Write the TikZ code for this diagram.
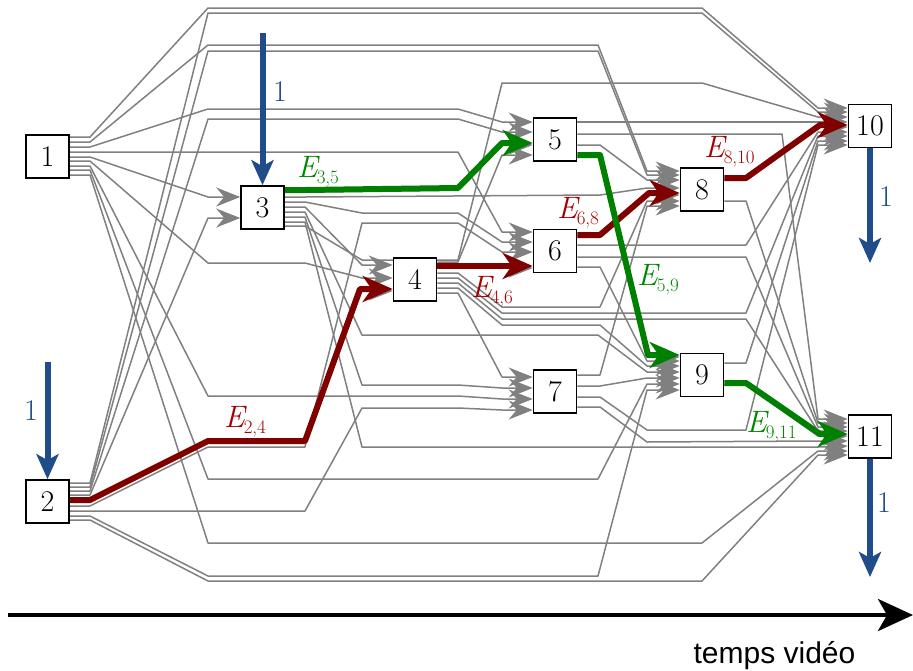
\documentclass[tikz,border=0pt]{standalone}
\usepackage{fontspec}
\newfontfamily\labelsans{Liberation Sans}
\usetikzlibrary{arrows.meta}
\pgfdeclarelayer{edges}
\pgfsetlayers{edges,main}
\definecolor{edgegray}{RGB}{128,128,128}
\definecolor{pathred}{RGB}{128,0,0}
\definecolor{pathgreen}{RGB}{0,128,0}
\definecolor{lblred}{RGB}{165,0,0}
\definecolor{lblgreen}{RGB}{0,135,0}
\definecolor{flowblue}{RGB}{33,76,138}
\newcommand\elab[1]{{\fontsize{31}{36}\selectfont\itshape E}\kern-1pt\raisebox{-6.5pt}{\fontsize{19}{19}\selectfont #1}}
\tikzset{
  edge/.style={draw=edgegray, line width=1.5pt, line join=round, -{Stealth[length=24pt,width=19pt,inset=8pt]}},
  redpath/.style={draw=pathred, line width=6pt, line join=round, -{Stealth[length=30pt,width=26pt,inset=9pt]}},
  greenpath/.style={draw=pathgreen, line width=6pt, line join=round, -{Stealth[length=30pt,width=26pt,inset=9pt]}},
  flow/.style={draw=flowblue, line width=6pt, -{Stealth[length=25pt,width=22pt,inset=6pt]}},
  box/.style={draw=black, line width=1.6pt, fill=white, minimum size=43pt, inner sep=0pt, font=\fontsize{30}{30}\selectfont},
  lbl/.style={inner sep=0pt, font=\fontsize{30}{36}\selectfont},
}
\begin{document}
\begin{tikzpicture}[x=1pt,y=-1pt]
\useasboundingbox (0,0) rectangle (913,670);
\node[box] (n1) at (47.5,156.5) {1};
\node[box] (n2) at (47.5,501.5) {2};
\node[box] (n3) at (262.5,207.5) {3};
\node[box] (n4) at (415,279.5) {4};
\node[box] (n5) at (555,139.5) {5};
\node[box] (n6) at (555,251) {6};
\node[box] (n7) at (555,391.5) {7};
\node[box] (n8) at (702,189.5) {8};
\node[box] (n9) at (702,375) {9};
\node[box] (n10) at (870,126) {10};
\node[box] (n11) at (870,436.5) {11};

\begin{pgfonlayer}{edges}
% from 1
\draw[edge] (n1.east |- 0,137) -- (90,137) -- (208,8) -- (702,8) -- (818,108) -- (n10.west |- 0,108);
\draw[edge] (n1.east |- 0,142) -- (90,142) -- (208,45) -- (598,45) -- (647,171) -- (n8.west |- 0,171);
\draw[edge] (n1.east |- 0,147) -- (90,147) -- (208,109) -- (458,109) -- (502,122) -- (n5.west |- 0,122);
\draw[edge] (n1.east |- 0,152) -- (458,152) -- (502,232) -- (n6.west |- 0,232);
\draw[edge] (n1.east |- 0,157) -- (90,157) -- (208,197) -- (n3.west |- 0,197);
\draw[edge] (n1.east |- 0,161) -- (90,161) -- (208,263) -- (305,263) -- (362,278) -- (n4.west |- 0,278);
\draw[edge] (n1.east |- 0,166) -- (90,166) -- (208,396) -- (458,396) -- (502,399) -- (n7.west |- 0,399);
\draw[edge] (n1.east |- 0,170) -- (90,170) -- (208,479) -- (598,479) -- (647,384) -- (n9.west |- 0,384);
\draw[edge] (n1.east |- 0,175) -- (90,175) -- (208,543) -- (702,543) -- (818,451) -- (n11.west |- 0,451);
% from 2
\draw[edge] (n2.east |- 0,483) -- (90,483) -- (208,13) -- (702,13) -- (818,112) -- (n10.west |- 0,112);
\draw[edge] (n2.east |- 0,487) -- (90,487) -- (208,51) -- (598,51) -- (647,175) -- (n8.west |- 0,175);
\draw[edge] (n2.east |- 0,491) -- (90,491) -- (208,119) -- (458,119) -- (502,132) -- (n5.west |- 0,132);
\draw[edge] (n2.east |- 0,495) -- (90,495) -- (208,218) -- (n3.west |- 0,218);
\draw[edge] (n2.east |- 0,502) -- (90,502) -- (208,443) -- (305,443) -- (362,291) -- (n4.west |- 0,291);
\draw[edge] (n2.east |- 0,506) -- (90,506) -- (208,447) -- (305,447) -- (362,223) -- (458,223) -- (502,252) -- (n6.west |- 0,252);
\draw[edge] (n2.east |- 0,511) -- (305,511) -- (362,408) -- (458,408) -- (502,410) -- (n7.west |- 0,410);
\draw[edge] (n2.east |- 0,516) -- (90,516) -- (208,576) -- (598,576) -- (647,390) -- (n9.west |- 0,390);
\draw[edge] (n2.east |- 0,520) -- (90,520) -- (208,581) -- (702,581) -- (818,455) -- (n11.west |- 0,455);
% from 3
\draw[edge] (n3.east |- 0,192) -- (305,192) -- (458,190) -- (502,145) -- (n5.west |- 0,145);
\draw[edge] (n3.east |- 0,197) -- (305,197) -- (600,195) -- (647,188) -- (n8.west |- 0,188);
\draw[edge] (n3.east |- 0,202) -- (305,202) -- (362,213) -- (458,213) -- (502,242) -- (n6.west |- 0,242);
\draw[edge] (n3.east |- 0,207) -- (305,207) -- (362,265) -- (n4.west |- 0,265);
\draw[edge] (n3.east |- 0,212) -- (305,212) -- (362,335) -- (598,335) -- (647,372) -- (n9.west |- 0,372);
\draw[edge] (n3.east |- 0,217) -- (305,217) -- (362,385) -- (458,385) -- (502,388) -- (n7.west |- 0,388);
\draw[edge] (n3.east |- 0,222) -- (305,222) -- (362,447) -- (818,447) -- (n11.west |- 0,446);
\draw[edge] (n3.east |- 0,226) -- (305,226) -- (362,260) -- (458,260) -- (502,83) -- (702,83) -- (818,117) -- (n10.west |- 0,117);
% from 4
\draw[edge] (n4.east |- 0,262) -- (458,262) -- (502,155) -- (n5.west |- 0,155);
\draw[edge] (n4.east |- 0,268) -- (n6.west |- 0,268);
\draw[edge] (n4.east |- 0,273) -- (458,273) -- (502,307) -- (600,307) -- (647,201) -- (n8.west |- 0,201);
\draw[edge] (n4.east |- 0,278) -- (458,278) -- (502,313) -- (746,313) -- (818,136) -- (n10.west |- 0,136);
\draw[edge] (n4.east |- 0,283) -- (458,283) -- (502,319) -- (746,319) -- (818,431) -- (n11.west |- 0,431);
\draw[edge] (n4.east |- 0,288) -- (458,288) -- (502,325) -- (600,325) -- (647,366) -- (n9.west |- 0,366);
\draw[edge] (n4.east |- 0,293) -- (458,293) -- (502,377) -- (n7.west |- 0,377);
% from 5
\draw[edge] (n5.east |- 0,122) -- (n10.west |- 0,122);
\draw[edge] (n5.east |- 0,134) -- (782,134) -- (818,419) -- (n11.west |- 0,419);
\draw[edge] (n5.east |- 0,145) -- (600,145) -- (647,180) -- (n8.west |- 0,180);
\draw[edge] (n5.east |- 0,157) -- (600,157) -- (647,357) -- (n9.west |- 0,357);
% from 6
\draw[edge] (n6.east |- 0,237) -- (600,237) -- (647,195) -- (n8.west |- 0,195);
\draw[edge] (n6.east |- 0,245) -- (746,245) -- (818,132) -- (n10.west |- 0,132);
\draw[edge] (n6.east |- 0,257) -- (746,257) -- (818,427) -- (n11.west |- 0,427);
\draw[edge] (n6.east |- 0,267) -- (600,267) -- (647,361) -- (n9.west |- 0,361);
% from 7
\draw[edge] (n7.east |- 0,375) -- (600,375) -- (647,206) -- (n8.west |- 0,206);
\draw[edge] (n7.east |- 0,386) -- (600,386) -- (647,378) -- (n9.west |- 0,378);
\draw[edge] (n7.east |- 0,397) -- (600,397) -- (647,430) -- (746,430) -- (818,145) -- (n10.west |- 0,145);
\draw[edge] (n7.east |- 0,407) -- (600,407) -- (647,442) -- (818,441) -- (n11.west |- 0,441);
% from 8
\draw[edge] (n8.east |- 0,180) -- (746,180) -- (818,127) -- (n10.west |- 0,127);
\draw[edge] (n8.east |- 0,201) -- (746,201) -- (818,423) -- (n11.west |- 0,423);
% from 9
\draw[edge] (n9.east |- 0,363) -- (746,363) -- (818,141) -- (n10.west |- 0,141);
\draw[edge] (n9.east |- 0,385) -- (746,385) -- (818,436) -- (n11.west |- 0,436);

% highlighted paths
\draw[redpath] (n2.east |- 0,500) -- (90,500) -- (208,441) -- (305,441) -- (360,289) -- (n4.west |- 0,289);
\draw[redpath] (n4.east |- 0,266) -- (n6.west |- 0,266);
\draw[redpath] (n6.east |- 0,235) -- (600,235) -- (649,193) -- (n8.west |- 0,193);
\draw[redpath] (n8.east |- 0,178) -- (746,178) -- (820,125) -- (n10.west |- 0,125);
\draw[greenpath] (n3.east |- 0,190) -- (305,190) -- (458,188) -- (502,143) -- (n5.west |- 0,143);
\draw[greenpath] (n5.east |- 0,155) -- (600,155) -- (648,355) -- (n9.west |- 0,355);
\draw[greenpath] (n9.east |- 0,383) -- (746,383) -- (820,434) -- (n11.west |- 0,434);
\end{pgfonlayer}

% flow arrows
\coordinate (in3) at (262.5,33);
\coordinate (in2) at (47.5,362);
\coordinate (out10) at (870,263);
\coordinate (out11) at (870,577);
\draw[flow] (in3) -- (n3.north);
\draw[flow] (in2) -- (n2.north);
\draw[flow] (n10.south) -- (out10);
\draw[flow] (n11.south) -- (out11);
\node[lbl, text=flowblue] (f3) at (280,92) {1};
\node[lbl, text=flowblue] (f2) at (31,411) {1};
\node[lbl, text=flowblue] (f10) at (886,197) {1};
\node[lbl, text=flowblue] (f11) at (884,503) {1};

% edge labels (anchored at the baseline of E)
\node[inner sep=0pt, anchor=base west, text=lblgreen] (l35) at (297,177) {\elab{3,5}};
\node[inner sep=0pt, anchor=base west, text=lblred] (l24) at (224,427) {\elab{2,4}};
\node[inner sep=0pt, anchor=base west, text=lblred] (l46) at (471,297) {\elab{4,6}};
\node[inner sep=0pt, anchor=base west, text=lblred] (l68) at (557,218) {\elab{6,8}};
\node[inner sep=0pt, anchor=base west, text=lblred] (l810) at (704,157) {\elab{8,10}};
\node[inner sep=0pt, anchor=base west, text=lblgreen] (l59) at (637,285) {\elab{5,9}};
\node[inner sep=0pt, anchor=base west, text=lblgreen] (l911) at (746,432) {\elab{9,11}};

% time axis
\coordinate (ax0) at (8,615);
\coordinate (ax1) at (913,615);
\draw[line width=4pt, -{Stealth[length=35pt,width=32pt,inset=9pt]}] (ax0) -- (ax1);
\node[anchor=base, inner sep=0pt, font=\labelsans\fontsize{30}{36}\selectfont] (tv) at (774.5,663) {temps vidéo};
\end{tikzpicture}
\end{document}
